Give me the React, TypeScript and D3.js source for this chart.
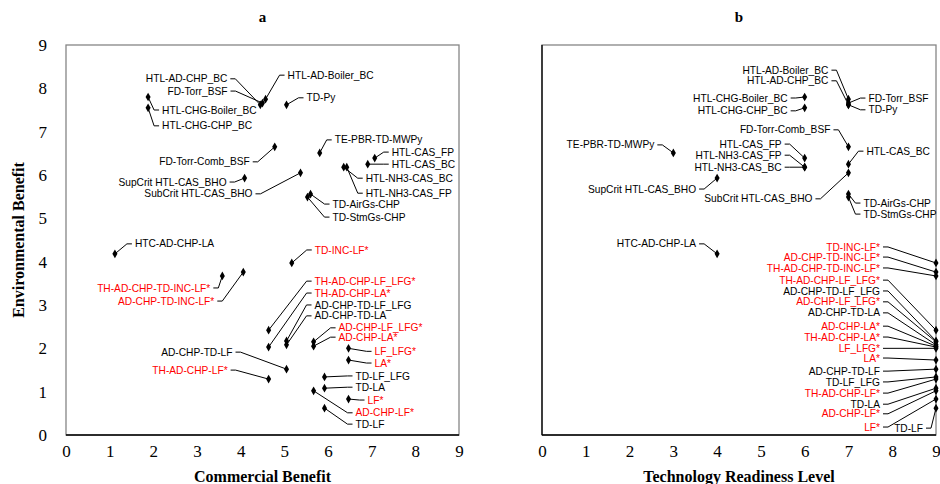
import React, { useEffect, useRef } from "react";
import * as d3 from "d3";

// pathways
const names = [
  "HTL-AD-Boiler_BC", "HTL-AD-CHP_BC", "FD-Torr_BSF", "TD-Py",
  "HTL-CHG-Boiler_BC", "HTL-CHG-CHP_BC", "FD-Torr-Comb_BSF", "TE-PBR-TD-MWPy",
  "HTL-CAS_FP", "HTL-CAS_BC", "HTL-NH3-CAS_BC", "HTL-NH3-CAS_FP",
  "SupCrit HTL-CAS_BHO", "SubCrit HTL-CAS_BHO", "TD-AirGs-CHP", "TD-StmGs-CHP",
  "HTC-AD-CHP-LA", "TD-INC-LF*", "TH-AD-CHP-TD-INC-LF*", "AD-CHP-TD-INC-LF*",
  "TH-AD-CHP-LF_LFG*", "TH-AD-CHP-LA*", "AD-CHP-TD-LF_LFG", "AD-CHP-TD-LA",
  "AD-CHP-LF_LFG*", "AD-CHP-LA*", "LF_LFG*", "LA*",
  "AD-CHP-TD-LF", "TH-AD-CHP-LF*", "TD-LF_LFG", "TD-LA",
  "LF*", "AD-CHP-LF*", "TD-LF",
];
const commercial = [
  4.57, 4.45, 4.5, 5.05,
  1.88, 1.88, 4.78, 5.81,
  7.07, 6.91, 6.36, 6.43,
  4.09, 5.37, 5.6, 5.53,
  1.12, 5.17, 3.58, 4.06,
  4.64, 4.64, 5.05, 5.05,
  5.67, 5.67, 6.47, 6.47,
  5.05, 4.64, 5.92, 5.92,
  6.47, 5.67, 5.92,
];
const environmental = [
  7.75, 7.62, 7.66, 7.62,
  7.8, 7.55, 6.65, 6.51,
  6.39, 6.25, 6.18, 6.18,
  5.93, 6.05, 5.56, 5.49,
  4.18, 3.97, 3.67, 3.76,
  2.42, 2.03, 2.17, 2.08,
  2.15, 2.05, 2.0, 1.73,
  1.52, 1.29, 1.34, 1.08,
  0.83, 1.02, 0.62,
];
const trl = [
  7, 7, 7, 7,
  6, 6, 7, 3,
  6, 7, 6, 6,
  4, 7, 7, 7,
  4, 9, 9, 9,
  9, 9, 9, 9,
  9, 9, 9, 9,
  9, 9, 9, 9,
  9, 9, 9,
];
const ticks = [0, 1, 2, 3, 4, 5, 6, 7, 8, 9];

// label placement: [dx, dy, anchor] in px from the marker
type Lab = [number, number, "start" | "end"];
const labelsA: Lab[] = [
  [22, -24, "start"], [-33, -26, "end"], [-35, -12, "end"], [20, -7, "start"],
  [14, 13, "start"], [14, 18, "start"], [-25, 15, "end"], [15, -13, "start"],
  [17, -6, "start"], [24, 0, "start"], [22, 11, "start"], [19, 26, "start"],
  [-18, 4, "end"], [-48, 21, "end"], [22, 10, "start"], [25, 20, "start"],
  [20, -10, "start"], [23, -13, "start"], [-12, 12, "end"], [-29, 29, "end"],
  [46, -49, "start"], [46, -54, "start"], [28, -36, "start"], [28, -29, "start"],
  [25, -14, "start"], [25, -9, "start"], [26, 3, "start"], [26, 3, "start"],
  [-54, -17, "end"], [-41, -9, "end"], [31, -1, "start"], [31, -1, "start"],
  [19, 1, "start"], [42, 22, "start"], [31, 16, "start"],
];
const labelsB: Lab[] = [
  [-20, -29, "end"], [-20, -24, "end"], [20, -5, "start"], [20, 5, "start"],
  [-17, 1, "end"], [-17, 3, "end"], [-18, -17, "end"], [-19, -8, "end"],
  [-23, -14, "end"], [18, -13, "start"], [-23, 0, "end"], [-23, -12, "end"],
  [-21, 11, "end"], [-36, 26, "end"], [15, 9, "start"], [15, 17, "start"],
  [-21, -10, "end"], [-56, -16, "end"], [-56, -8, "end"], [-56, -15, "end"],
  [-56, -50, "end"], [-56, -10, "end"], [-56, -50, "end"], [-56, -32, "end"],
  [-56, -40, "end"], [-56, -20, "end"], [-56, 0, "end"], [-56, -2, "end"],
  [-56, 2, "end"], [-56, 14, "end"], [-56, 5, "end"], [-56, 16, "end"],
  [-56, 28, "end"], [-56, 23, "end"], [-13, 20, "end"],
];

const W = 940;
const H = 484;
const top = 45;
const bottom = 435;
const serif = "'Liberation Serif', 'Times New Roman', serif";

const App = () => {
  const svgRef = useRef<SVGSVGElement>(null);

  useEffect(() => {
    const svg = d3.select(svgRef.current);
    svg.selectAll("*").remove();

    const yScale = d3.scaleLinear().domain([0, 9]).range([bottom, top]);

    const panel = (
      x0: number,
      x1: number,
      xs: number[],
      labels: Lab[],
      title: string,
      xTitle: string,
      showY: boolean
    ) => {
      const xScale = d3.scaleLinear().domain([0, 9]).range([x0, x1]);
      const g = svg.append("g");

      // frame
      g.append("rect")
        .attr("x", x0).attr("y", top)
        .attr("width", x1 - x0).attr("height", bottom - top)
        .attr("fill", "none").attr("stroke", "#868686").attr("stroke-width", 1.3);
      g.append("line")
        .attr("x1", x0).attr("x2", x1).attr("y1", bottom).attr("y2", bottom)
        .attr("stroke", "#000").attr("stroke-width", 1.6);
      if (!showY) {
        g.append("line")
          .attr("x1", x0).attr("x2", x0).attr("y1", top).attr("y2", bottom)
          .attr("stroke", "#000").attr("stroke-width", 1.3);
      }

      // x axis
      const xAxis = g.append("g")
        .attr("transform", `translate(0,${bottom})`)
        .call(d3.axisBottom(xScale).tickValues(ticks).tickSize(0).tickPadding(10));
      xAxis.select(".domain").remove();
      xAxis.selectAll("text")
        .attr("font-family", serif)
        .attr("font-size", 17).attr("fill", "#000");

      if (showY) {
        const yAxis = g.append("g")
          .attr("transform", `translate(${x0},0)`)
          .call(d3.axisLeft(yScale).tickValues(ticks).tickSize(0).tickPadding(19));
        yAxis.select(".domain").remove();
        yAxis.selectAll("text")
          .attr("font-family", serif)
          .attr("font-size", 17).attr("fill", "#000");
        g.append("text")
          .attr("transform", `translate(24,${(top + bottom) / 2}) rotate(-90)`)
          .attr("text-anchor", "middle")
          .attr("font-family", serif)
          .attr("font-weight", "bold").attr("font-size", 16)
          .text("Environmental Benefit");
      }

      g.append("text")
        .attr("x", (x0 + x1) / 2).attr("y", 22)
        .attr("text-anchor", "middle")
        .attr("font-family", serif)
        .attr("font-weight", "bold").attr("font-size", 15)
        .text(title);
      g.append("text")
        .attr("x", (x0 + x1) / 2).attr("y", 482)
        .attr("text-anchor", "middle")
        .attr("font-family", serif)
        .attr("font-weight", "bold").attr("font-size", 16)
        .text(xTitle);

      const pts = names.map((n, i) => ({
        name: n,
        px: xScale(xs[i]),
        py: yScale(environmental[i]),
        lab: labels[i],
        red: n.endsWith("*"),
      }));

      // leader lines
      g.append("g")
        .selectAll("path")
        .data(pts)
        .enter()
        .append("path")
        .attr("fill", "none")
        .attr("stroke", "#000")
        .attr("stroke-width", 1)
        .attr("d", (d) => {
          const [dx, dy, a] = d.lab;
          const lx = d.px + dx;
          const ly = d.py + dy;
          const s = a === "start" ? -1 : 1;
          const e1 = lx + s * 3;
          const e2 = lx + s * 8;
          return d3.line()([[e1, ly], [e2, ly], [d.px, d.py]]);
        });

      // markers
      g.append("g")
        .selectAll("path")
        .data(pts)
        .enter()
        .append("path")
        .attr("transform", (d) => `translate(${d.px},${d.py})`)
        .attr("d", d3.symbol(d3.symbolDiamond, 22)())
        .attr("fill", "#000");

      // labels
      g.append("g")
        .selectAll("text")
        .data(pts)
        .enter()
        .append("text")
        .attr("x", (d) => d.px + d.lab[0])
        .attr("y", (d) => d.py + d.lab[1])
        .attr("dy", "0.35em")
        .attr("text-anchor", (d) => d.lab[2])
        .attr("font-family", "'Liberation Sans', Arial, sans-serif")
        .attr("font-size", 10.2)
        .attr("fill", (d) => (d.red ? "#ff0000" : "#000"))
        .text((d) => d.name);
    };

    panel(66, 459, commercial, labelsA, "a", "Commercial Benefit", true);
    panel(542, 936, trl, labelsB, "b", "Technology Readiness Level", false);
  }, []);

  return (
    <svg
      ref={svgRef}
      width={W}
      height={H}
      style={{ position: "absolute", left: 0, top: 0, background: "#fff" }}
    />
  );
};

export default App;
